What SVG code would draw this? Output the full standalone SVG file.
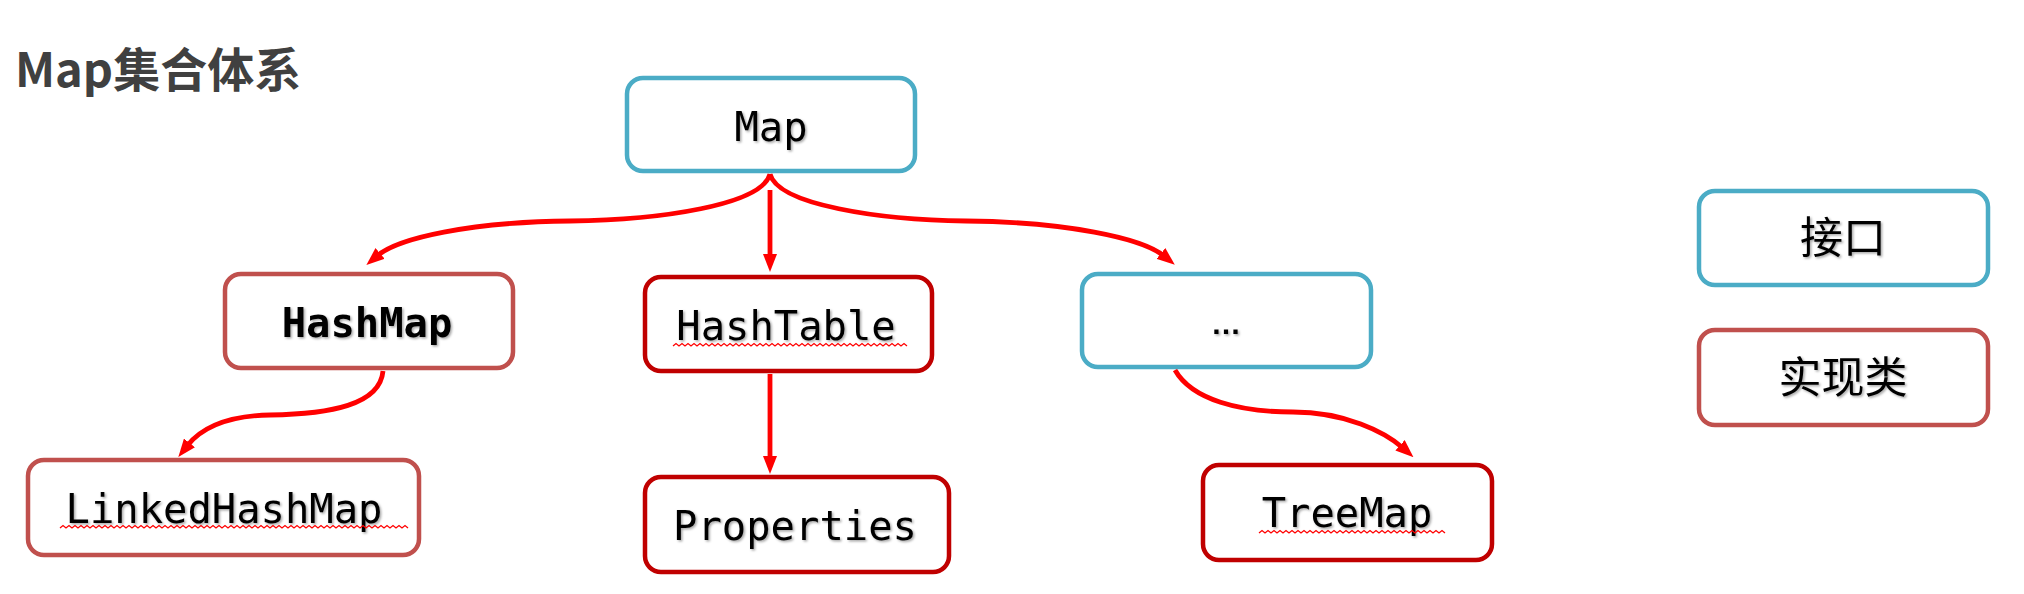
<svg xmlns="http://www.w3.org/2000/svg" width="2024" height="594" viewBox="0 0 2024 594">
<defs>
<style>
.box{fill:#fff;stroke-width:4.5}
.iface{stroke:#4BACC6}
.impl{stroke:#C0504D}
.impl2{stroke:#C00000}
.lbl{font-family:"DejaVu Sans Mono","Liberation Mono",monospace;font-size:40.5px;fill:#000;text-anchor:middle;filter:url(#sh)}
.cjk{font-family:"Noto Sans CJK SC","Noto Sans",sans-serif;font-size:43px;font-weight:400;fill:#000;text-anchor:middle;filter:url(#sh)}
.conn{fill:none;stroke:#FF0000;stroke-width:4.8}
.squig{fill:none;stroke:#FF0000;stroke-width:1.3}
</style>
<filter id="sh" x="-10%" y="-20%" width="130%" height="150%">
<feDropShadow dx="1.5" dy="1.5" stdDeviation="1" flood-color="#000" flood-opacity="0.35"/>
</filter>
<marker id="ah" markerUnits="userSpaceOnUse" viewBox="0 0 18 14" markerWidth="18" markerHeight="14" refX="4" refY="7" orient="auto">
<path d="M0,0 L18,7 L0,14 z" fill="#FF0000"/>
</marker>
</defs>
<rect width="2024" height="594" fill="#fff"/>
<text x="15" y="87" font-family="'Noto Sans CJK SC','Noto Sans',sans-serif" font-weight="bold" font-size="47" fill="#404040">Map集合体系</text>

<g id="connectors">
<path class="conn" marker-end="url(#ah)" d="M770,174 C762,205 660,220 570,221 C470,222 398,238 377,256"/>
<path class="conn" marker-end="url(#ah)" d="M770,190 L770,258"/>
<path class="conn" marker-end="url(#ah)" d="M770,174 C778,205 880,220 966,221 C1066,222 1142,238 1164,256"/>
<path class="conn" marker-end="url(#ah)" d="M383,371 C380,405 330,414 270,415 C220,416 198,432 187,446"/>
<path class="conn" marker-end="url(#ah)" d="M770,374 L770,460"/>
<path class="conn" marker-end="url(#ah)" d="M1175,370 C1192,400 1240,412 1293,412 C1345,412 1385,432 1403,448"/>
</g>

<g id="node-map">
<rect class="box iface" x="627" y="78" width="288" height="93" rx="16"/>
<text class="lbl" x="771" y="141">Map</text>
</g>
<g id="node-hashmap">
<rect class="box impl" x="225" y="274" width="288" height="94" rx="16"/>
<text class="lbl" x="367" y="337" font-weight="bold">HashMap</text>
</g>
<g id="node-hashtable">
<rect class="box impl2" x="645" y="277" width="287" height="94" rx="16"/>
<text class="lbl" x="786" y="340">HashTable</text>
<path class="squig" d="M673,346 l3,-2.5 l3,2.5 l3,-2.5 l3,2.5 l3,-2.5 l3,2.5 l3,-2.5 l3,2.5 l3,-2.5 l3,2.5 l3,-2.5 l3,2.5 l3,-2.5 l3,2.5 l3,-2.5 l3,2.5 l3,-2.5 l3,2.5 l3,-2.5 l3,2.5 l3,-2.5 l3,2.5 l3,-2.5 l3,2.5 l3,-2.5 l3,2.5 l3,-2.5 l3,2.5 l3,-2.5 l3,2.5 l3,-2.5 l3,2.5 l3,-2.5 l3,2.5 l3,-2.5 l3,2.5 l3,-2.5 l3,2.5 l3,-2.5 l3,2.5 l3,-2.5 l3,2.5 l3,-2.5 l3,2.5 l3,-2.5 l3,2.5 l3,-2.5 l3,2.5 l3,-2.5 l3,2.5 l3,-2.5 l3,2.5 l3,-2.5 l3,2.5 l3,-2.5 l3,2.5 l3,-2.5 l3,2.5 l3,-2.5 l3,2.5 l3,-2.5 l3,2.5 l3,-2.5 l3,2.5 l3,-2.5 l3,2.5 l3,-2.5 l3,2.5 l3,-2.5 l3,2.5 l3,-2.5 l3,2.5 l3,-2.5 l3,2.5 l3,-2.5 l3,2.5 l3,-2.5 l3,2.5"/>
</g>
<g id="node-etc">
<rect class="box iface" x="1082" y="274" width="289" height="93" rx="16"/>
<text x="1226" y="334" font-family="'Liberation Sans',sans-serif" font-size="30" font-weight="bold" text-anchor="middle" fill="#000" filter="url(#sh)">…</text>
</g>
<g id="node-linkedhashmap">
<rect class="box impl" x="28" y="460" width="391" height="95" rx="16"/>
<text class="lbl" x="224" y="523">LinkedHashMap</text>
<path class="squig" d="M60,528 l3,-2.5 l3,2.5 l3,-2.5 l3,2.5 l3,-2.5 l3,2.5 l3,-2.5 l3,2.5 l3,-2.5 l3,2.5 l3,-2.5 l3,2.5 l3,-2.5 l3,2.5 l3,-2.5 l3,2.5 l3,-2.5 l3,2.5 l3,-2.5 l3,2.5 l3,-2.5 l3,2.5 l3,-2.5 l3,2.5 l3,-2.5 l3,2.5 l3,-2.5 l3,2.5 l3,-2.5 l3,2.5 l3,-2.5 l3,2.5 l3,-2.5 l3,2.5 l3,-2.5 l3,2.5 l3,-2.5 l3,2.5 l3,-2.5 l3,2.5 l3,-2.5 l3,2.5 l3,-2.5 l3,2.5 l3,-2.5 l3,2.5 l3,-2.5 l3,2.5 l3,-2.5 l3,2.5 l3,-2.5 l3,2.5 l3,-2.5 l3,2.5 l3,-2.5 l3,2.5 l3,-2.5 l3,2.5 l3,-2.5 l3,2.5 l3,-2.5 l3,2.5 l3,-2.5 l3,2.5 l3,-2.5 l3,2.5 l3,-2.5 l3,2.5 l3,-2.5 l3,2.5 l3,-2.5 l3,2.5 l3,-2.5 l3,2.5 l3,-2.5 l3,2.5 l3,-2.5 l3,2.5 l3,-2.5 l3,2.5 l3,-2.5 l3,2.5 l3,-2.5 l3,2.5 l3,-2.5 l3,2.5 l3,-2.5 l3,2.5 l3,-2.5 l3,2.5 l3,-2.5 l3,2.5 l3,-2.5 l3,2.5 l3,-2.5 l3,2.5 l3,-2.5 l3,2.5 l3,-2.5 l3,2.5 l3,-2.5 l3,2.5 l3,-2.5 l3,2.5 l3,-2.5 l3,2.5 l3,-2.5 l3,2.5 l3,-2.5 l3,2.5 l3,-2.5 l3,2.5 l3,-2.5 l3,2.5 l3,-2.5 l3,2.5"/>
</g>
<g id="node-properties">
<rect class="box impl2" x="645" y="477" width="304" height="95" rx="16"/>
<text class="lbl" x="795" y="540">Properties</text>
</g>
<g id="node-treemap">
<rect class="box impl2" x="1203" y="465" width="289" height="95" rx="16"/>
<text class="lbl" x="1347" y="527">TreeMap</text>
<path class="squig" d="M1259,533 l3,-2.5 l3,2.5 l3,-2.5 l3,2.5 l3,-2.5 l3,2.5 l3,-2.5 l3,2.5 l3,-2.5 l3,2.5 l3,-2.5 l3,2.5 l3,-2.5 l3,2.5 l3,-2.5 l3,2.5 l3,-2.5 l3,2.5 l3,-2.5 l3,2.5 l3,-2.5 l3,2.5 l3,-2.5 l3,2.5 l3,-2.5 l3,2.5 l3,-2.5 l3,2.5 l3,-2.5 l3,2.5 l3,-2.5 l3,2.5 l3,-2.5 l3,2.5 l3,-2.5 l3,2.5 l3,-2.5 l3,2.5 l3,-2.5 l3,2.5 l3,-2.5 l3,2.5 l3,-2.5 l3,2.5 l3,-2.5 l3,2.5 l3,-2.5 l3,2.5 l3,-2.5 l3,2.5 l3,-2.5 l3,2.5 l3,-2.5 l3,2.5 l3,-2.5 l3,2.5 l3,-2.5 l3,2.5 l3,-2.5 l3,2.5 l3,-2.5 l3,2.5"/>
</g>
<g id="legend-interface">
<rect class="box iface" x="1699" y="191" width="289" height="94" rx="16"/>
<text class="cjk" x="1843" y="253">接口</text>
</g>
<g id="legend-impl">
<rect class="box impl" x="1699" y="330" width="289" height="95" rx="16"/>
<text class="cjk" x="1843" y="393">实现类</text>
</g>
</svg>
